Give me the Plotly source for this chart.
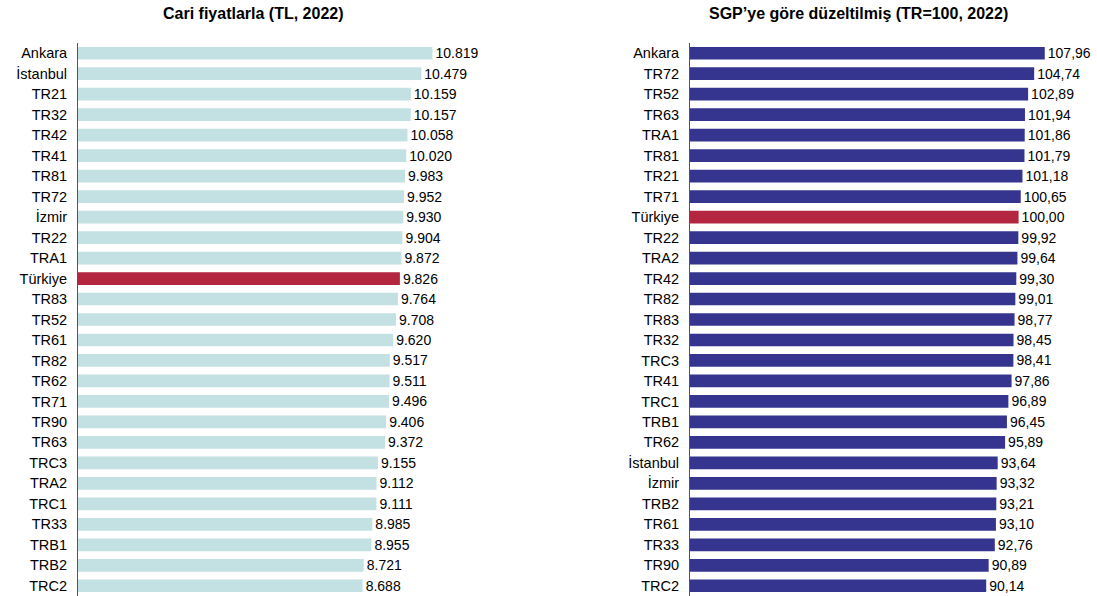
import plotly.graph_objects as go

left_regions = ["Ankara", "İstanbul", "TR21", "TR32", "TR42", "TR41", "TR81", "TR72", "İzmir",
                "TR22", "TRA1", "Türkiye", "TR83", "TR52", "TR61", "TR82", "TR62", "TR71",
                "TR90", "TR63", "TRC3", "TRA2", "TRC1", "TR33", "TRB1", "TRB2", "TRC2"]
left_values = [10819, 10479, 10159, 10157, 10058, 10020, 9983, 9952, 9930,
               9904, 9872, 9826, 9764, 9708, 9620, 9517, 9511, 9496,
               9406, 9372, 9155, 9112, 9111, 8985, 8955, 8721, 8688]

right_regions = ["Ankara", "TR72", "TR52", "TR63", "TRA1", "TR81", "TR21", "TR71", "Türkiye",
                 "TR22", "TRA2", "TR42", "TR82", "TR83", "TR32", "TRC3", "TR41", "TRC1",
                 "TRB1", "TR62", "İstanbul", "İzmir", "TRB2", "TR61", "TR33", "TR90", "TRC2"]
right_values = [107.96, 104.74, 102.89, 101.94, 101.86, 101.79, 101.18, 100.65, 100.00,
                99.92, 99.64, 99.30, 99.01, 98.77, 98.45, 98.41, 97.86, 96.89,
                96.45, 95.89, 93.64, 93.32, 93.21, 93.10, 92.76, 90.89, 90.14]

left_title = "Cari fiyatlarla (TL, 2022)"
right_title = "SGP’ye göre düzeltilmiş (TR=100, 2022)"

TEAL = "#c3e0e2"
NAVY = "#35358f"
RED = "#b42640"
FONT = "Liberation Sans, Arial, sans-serif"

left_text = [f"{v:,}".replace(",", ".") for v in left_values]
right_text = [f"{v:.2f}".replace(".", ",") for v in right_values]
left_colors = [RED if r == "Türkiye" else TEAL for r in left_regions]
right_colors = [RED if r == "Türkiye" else NAVY for r in right_regions]

W, H = 1097, 596
T, B = 43, 0
PH = H - T - B

fig = go.Figure()
fig.add_trace(go.Bar(x=left_values, y=left_regions, orientation="h",
                     marker=dict(color=left_colors, line=dict(width=0)),
                     text=left_text, textposition="outside", cliponaxis=False,
                     constraintext="none",
                     textfont=dict(size=14, color="black", family=FONT),
                     xaxis="x", yaxis="y", hoverinfo="skip"))
fig.add_trace(go.Bar(x=right_values, y=right_regions, orientation="h",
                     marker=dict(color=right_colors, line=dict(width=0)),
                     text=right_text, textposition="outside", cliponaxis=False,
                     constraintext="none",
                     textfont=dict(size=14, color="black", family=FONT),
                     xaxis="x2", yaxis="y2", hoverinfo="skip"))

lx0 = 78 / W
lx1 = (78 + 12000 * 0.03276) / W
rx0 = 690 / W
rx1 = (690 + 120 * 3.286) / W

yax = dict(autorange="reversed", showline=True, linecolor="#555555", linewidth=1,
           showgrid=False, zeroline=False, ticks="", ticklabelstandoff=7, automargin=False,
           tickfont=dict(size=14.5, color="black", family=FONT), fixedrange=True)
xax = dict(visible=False, showgrid=False, zeroline=False, fixedrange=True, automargin=False)

ty = 1 + (T - 13) / PH

fig.update_layout(
    width=W, height=H,
    margin=dict(l=0, r=0, t=T, b=B, autoexpand=False),
    paper_bgcolor="white", plot_bgcolor="white",
    showlegend=False, bargap=0.38,
    font=dict(family=FONT, size=14, color="black"),
    xaxis=dict(xax, domain=[lx0, lx1], range=[0, 12000], anchor="y"),
    yaxis=dict(yax, anchor="x"),
    xaxis2=dict(xax, domain=[rx0, rx1], range=[0, 120], anchor="y2"),
    yaxis2=dict(yax, anchor="x2"),
    annotations=[
        dict(text=f"<b>{left_title}</b>", x=253 / W, y=ty, xref="paper", yref="paper",
             yanchor="middle", xanchor="center", showarrow=False,
             font=dict(size=16, color="black", family=FONT)),
        dict(text=f"<b>{right_title}</b>", x=858 / W, y=ty, xref="paper", yref="paper",
             yanchor="middle", xanchor="center", showarrow=False,
             font=dict(size=16, color="black", family=FONT)),
    ],
)
fig.write_html("out.html", config={"displayModeBar": False},
               post_script="document.body.style.margin='0';document.body.style.overflow='hidden';")
